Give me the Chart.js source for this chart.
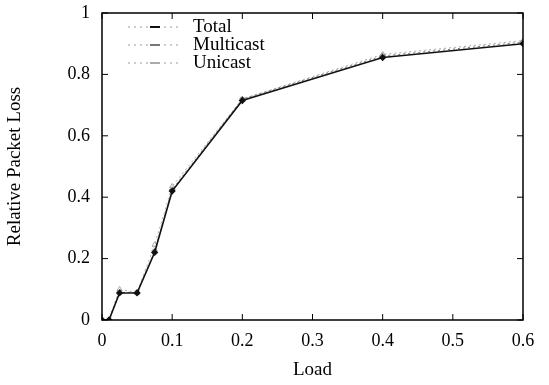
<!DOCTYPE html>
<html lang="en">
<head>
  <meta charset="UTF-8" />
  <title>Relative Packet Loss</title>
  <script src="https://cdn.jsdelivr.net/npm/chart.js"></script>
  <style>
    body {
      margin: 0;
      background: #fff;
    }
    .wrap {
      width: 549px;
      height: 385px;
    }
  </style>
</head>
<body>
  <div class="wrap">
    <canvas id="lossChart"></canvas>
  </div>

  <script>
    // data
    const load = [0, 0.01, 0.025, 0.05, 0.075, 0.1, 0.2, 0.4, 0.6];
    const total = [0, 0, 0.088, 0.088, 0.22, 0.42, 0.715, 0.855, 0.9];
    const multicast = [0, 0, 0.09, 0.09, 0.225, 0.425, 0.72, 0.86, 0.905];
    const unicast = [0, 0, 0.1, 0.09, 0.245, 0.435, 0.72, 0.865, 0.91];
    const xTicks = [0, 0.1, 0.2, 0.3, 0.4, 0.5, 0.6];
    const yTicks = [0, 0.2, 0.4, 0.6, 0.8, 1];

    const serif = "'Liberation Serif', 'DejaVu Serif', serif";
    const pts = arr => arr.map((v, i) => ({ x: load[i], y: v }));

    // frame with inward ticks on all four sides, like the original plot
    const framePlugin = {
      id: 'frame',
      afterDraw(chart) {
        const { ctx, chartArea: a, scales } = chart;
        ctx.save();
        ctx.strokeStyle = '#000';
        ctx.lineWidth = 1.5;
        ctx.strokeRect(a.left, a.top, a.right - a.left, a.bottom - a.top);
        ctx.lineWidth = 1;
        ctx.beginPath();
        xTicks.forEach(t => {
          const x = scales.x.getPixelForValue(t);
          ctx.moveTo(x, a.bottom); ctx.lineTo(x, a.bottom - 6);
          ctx.moveTo(x, a.top); ctx.lineTo(x, a.top + 6);
        });
        yTicks.forEach(t => {
          const y = scales.y.getPixelForValue(t);
          ctx.moveTo(a.left, y); ctx.lineTo(a.left + 6, y);
          ctx.moveTo(a.right, y); ctx.lineTo(a.right - 6, y);
        });
        ctx.stroke();

        // legend in top-left corner
        ctx.font = '19px ' + serif;
        ctx.textBaseline = 'middle';
        ctx.fillStyle = '#000';
        chart.data.datasets.forEach((ds, i) => {
          const y = a.top + 14 + i * 18;
          ctx.strokeStyle = '#999';
          ctx.lineWidth = 1;
          ctx.setLineDash([2, 4]);
          ctx.beginPath();
          ctx.moveTo(128, y); ctx.lineTo(180, y);
          ctx.stroke();
          ctx.setLineDash([]);
          ctx.fillStyle = ds.borderColor;
          ctx.fillRect(150, y - 1, 10, 2);
          ctx.fillStyle = '#000';
          ctx.fillText(ds.label, 193, y);
        });
        ctx.restore();
      }
    };

    new Chart(document.getElementById('lossChart'), {
      type: 'line',
      data: {
        datasets: [{
          label: 'Total',
          data: pts(total),
          borderColor: '#111',
          backgroundColor: '#111',
          borderWidth: 1.6,
          pointStyle: 'rectRot',
          pointRadius: 2.5
        }, {
          label: 'Multicast',
          data: pts(multicast),
          borderColor: '#777',
          backgroundColor: '#777',
          borderWidth: 1,
          borderDash: [2, 3],
          pointStyle: 'star',
          pointRadius: 3
        }, {
          label: 'Unicast',
          data: pts(unicast),
          borderColor: '#aaa',
          backgroundColor: 'rgba(0,0,0,0)',
          borderWidth: 1,
          borderDash: [2, 3],
          pointStyle: 'triangle',
          pointRadius: 3
        }]
      },
      options: {
        responsive: true,
        maintainAspectRatio: false,
        animation: false,
        layout: { padding: { top: 13, right: 26, bottom: 0, left: 0 } },
        plugins: {
          legend: { display: false },
          tooltip: { enabled: false }
        },
        scales: {
          x: {
            type: 'linear',
            min: 0,
            max: 0.6,
            afterBuildTicks: s => { s.ticks = xTicks.map(v => ({ value: v })); },
            afterFit: s => { s.height = 65; s.paddingLeft = 0; s.paddingRight = 0; },
            grid: { display: false, drawTicks: false },
            border: { display: false },
            ticks: {
              color: '#000',
              padding: 10,
              font: { family: serif, size: 18 },
              callback: v => String(v)
            },
            title: {
              display: true,
              text: 'Load',
              color: '#000',
              padding: { top: 4 },
              font: { family: serif, size: 19 }
            }
          },
          y: {
            min: 0,
            max: 1,
            afterBuildTicks: s => { s.ticks = yTicks.map(v => ({ value: v })); },
            afterFit: s => { s.width = 102; s.paddingTop = 0; s.paddingBottom = 0; },
            grid: { display: false, drawTicks: false },
            border: { display: false },
            ticks: {
              color: '#000',
              padding: 12,
              font: { family: serif, size: 18 },
              callback: v => String(v)
            },
            title: {
              display: true,
              text: 'Relative Packet Loss',
              color: '#000',
              padding: { bottom: 10 },
              font: { family: serif, size: 19 }
            }
          }
        }
      },
      plugins: [framePlugin]
    });
  </script>
</body>
</html>
